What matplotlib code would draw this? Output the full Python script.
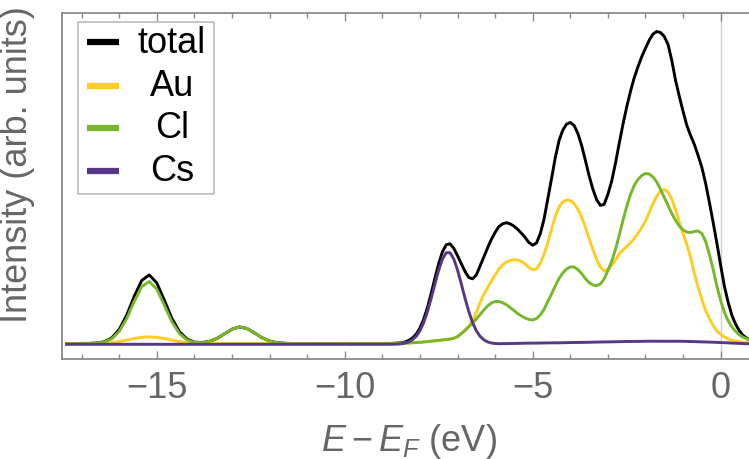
import matplotlib
matplotlib.use('Agg')
import matplotlib.pyplot as plt
import numpy as np
from matplotlib.ticker import MultipleLocator
from matplotlib.patches import Rectangle

plt.rcParams['font.family'] = 'Liberation Sans'
plt.rcParams['mathtext.fontset'] = 'custom'
plt.rcParams['mathtext.rm'] = 'Liberation Sans'
plt.rcParams['mathtext.it'] = 'Liberation Sans:italic'

# semi-core window, 0.2 eV steps
E_CORE = np.linspace(-17.4, -8.8, 44)
# valence window, 0.1 eV steps
E_VAL = np.linspace(-8.6, 0.8, 95)

TOTAL_CORE = [0, 0, 0, 0.1, 0.5, 1.7, 5.5, 13.9, 28.3, 47.0, 63.0, 68.6, 60.6, 43.5, 25.3,
              12.0, 4.6, 1.4, 1.0, 2.1, 5.0, 9.6, 14.3, 16.6, 15.0, 10.6, 5.8, 2.5, 0.8, 0.2,
              0, 0, 0, 0, 0, 0, 0, 0, 0, 0, 0, 0, 0, 0]
AU_CORE = [0, 0, 0, 0, 0.1, 0.3, 0.9, 1.9, 3.4, 5.0, 6.2, 6.6, 6.2, 5.0, 3.4,
           1.9, 0.9, 0.3, 0.1, 0, 0, 0, 0, 0, 0, 0, 0, 0, 0, 0,
           0, 0, 0, 0, 0, 0, 0, 0, 0, 0, 0, 0, 0, 0]
CL_CORE = [0, 0, 0, 0.1, 0.4, 1.4, 4.6, 12.0, 24.9, 42.0, 56.8, 62.0, 54.4, 38.5, 21.9,
           10.1, 3.7, 1.1, 0.9, 2.1, 5.0, 9.6, 14.3, 16.6, 15.0, 10.6, 5.8, 2.5, 0.8, 0.2,
           0, 0, 0, 0, 0, 0, 0, 0, 0, 0, 0, 0, 0, 0]
CS_CORE = [-0.8] * 44

TOTAL_VAL = [0.4, 0.8, 1.5, 3.0, 5.4, 9.3, 15.4, 24.2, 36.0, 50.1, 65.4, 80.0, 91.8, 98.7, 99.7,
             95.2, 87.8, 79.8, 72.0, 66.0, 64.7, 68.5, 77.5, 86.5, 95.6, 104.1, 111.1, 116.9, 119.7, 120.8,
             119.6, 117.4, 114.2, 110.3, 105.9, 100.9, 98.3, 100.5, 109.6, 124.1, 144.2, 164.7, 185.8, 202.8, 213.4,
             219.4, 221.0, 218.1, 210.1, 198.2, 183.3, 167.8, 154.4, 143.8, 138.1, 139.1, 149.2, 162.3, 180.0, 200.0,
             219.0, 236.6, 252.0, 265.7, 276.7, 286.8, 295.3, 303.4, 309.4, 312.0, 311.0, 307.0, 299.0, 283.0, 263.0,
             247.0, 232.0, 218.0, 208.0, 199.0, 188.0, 176.0, 160.0, 141.0, 121.0, 100.0, 78.0, 57.0, 41.0, 28.0,
             19.0, 12.5, 8.0, 5.0, 3.2]
AU_VAL = [0.1, 0.2, 0.3, 0.5, 0.7, 0.9, 1.2, 1.5, 1.9, 2.3, 2.7, 3.1, 3.5, 3.9, 4.4,
          5.2, 7.0, 10.0, 13.5, 17.0, 23.0, 31.0, 41.0, 49.0, 56.0, 62.5, 68.5, 74.5, 78.5, 81.5,
          83.0, 83.8, 83.5, 82.0, 79.5, 76.0, 73.8, 74.5, 80.0, 89.0, 101.0, 114.0, 127.0, 136.5, 141.5,
          143.5, 143.0, 140.0, 134.5, 126.5, 116.5, 105.0, 94.0, 84.0, 76.5, 72.5, 74.0, 78.0, 83.5, 89.5,
          93.5, 97.0, 100.5, 105.0, 110.0, 116.0, 122.5, 131.0, 140.0, 147.5, 152.5, 154.0, 151.5, 144.5, 133.5,
          121.0, 110.0, 99.0, 86.0, 70.0, 56.0, 44.0, 33.0, 25.0, 18.0, 12.5, 9.0, 6.5, 4.5, 3.3,
          2.4, 1.8, 1.3, 0.9, 0.6]
CL_VAL = [0.1, 0.2, 0.3, 0.5, 0.7, 0.9, 1.2, 1.5, 1.9, 2.3, 2.7, 3.1, 3.5, 3.9, 4.4,
          5.2, 7.0, 9.8, 13.0, 16.8, 20.5, 24.5, 29.0, 33.5, 37.5, 40.5, 42.0, 42.0, 40.8, 38.8,
          36.0, 33.0, 30.0, 27.5, 25.5, 24.0, 23.5, 25.0, 28.5, 34.0, 42.0, 49.5, 57.5, 65.0, 70.5,
          74.5, 76.5, 76.5, 74.0, 70.0, 65.0, 61.0, 58.5, 57.8, 59.5, 64.5, 73.0, 82.0, 94.0, 108.0,
          123.0, 137.0, 149.0, 158.0, 164.0, 168.0, 170.0, 169.5, 166.5, 161.5, 154.0, 146.0, 138.0, 130.0, 123.0,
          117.5, 113.5, 111.5, 111.0, 112.0, 112.5, 110.0, 102.0, 89.0, 74.0, 57.0, 43.0, 31.0, 22.5, 16.5,
          12.0, 8.5, 6.2, 4.6, 3.4]
CS_VAL = [-0.6, -0.3, 0.4, 1.6, 3.7, 7.2, 12.7, 20.9, 31.9, 45.2, 59.7, 73.5, 84.6, 90.8, 90.8,
          84.6, 73.5, 59.7, 45.2, 31.9, 20.9, 12.7, 7.2, 3.7, 1.6, 0.5, 0.0,
          -0.2, -0.2, -0.1, 0, 0, 0.1, 0.2, 0.3, 0.3, 0.4,
          0.4, 0.5, 0.5, 0.6, 0.6, 0.7, 0.7, 0.8, 0.8, 0.9,
          1.0, 1.0, 1.1, 1.2, 1.2, 1.3, 1.4, 1.5, 1.5, 1.6,
          1.7, 1.8, 1.8, 1.9, 2.0, 2.0, 2.1, 2.1, 2.2, 2.2,
          2.3, 2.3, 2.4, 2.4, 2.4, 2.4, 2.4, 2.3, 2.3, 2.2,
          2.1, 2.0, 1.9, 1.8, 1.7, 1.5, 1.4, 1.2, 1.1, 1.0,
          0.8, 0.6, 0.4, 0.2, 0.0, -0.1, -0.2, -0.3]

energy = np.concatenate([E_CORE, E_VAL])
series = [
    ('total', TOTAL_CORE + TOTAL_VAL, 'black'),
    ('Au', AU_CORE + AU_VAL, '#ffcc22'),
    ('Cl', CL_CORE + CL_VAL, '#77b82a'),
    ('Cs', CS_CORE + CS_VAL, '#563887'),
]

fig = plt.figure(figsize=(7.49, 4.60), dpi=100)
ax = fig.add_axes([62 / 749, 100 / 460, 687 / 749, 346 / 460])

ax.axvline(0, color='#cfcfcf', lw=1.0, zorder=0)
for name, vals, col in series:
    ax.plot(energy, vals, color=col, lw=2.1, solid_joinstyle='round')

ax.set_xlim(-17.52, 0.753)
ax.set_ylim(-15.5, 330.5)
ax.set_yticks([])
ax.xaxis.set_major_locator(MultipleLocator(5))
ax.xaxis.set_minor_locator(MultipleLocator(1))
ax.tick_params(axis='x', which='both', direction='in', top=True, color='#8a8a8a',
               labelcolor='#666666', labelsize=26, pad=8, width=1.0)
ax.tick_params(axis='x', which='major', length=5.5)
ax.tick_params(axis='x', which='minor', length=3.3)
for side in ['left', 'bottom', 'top']:
    ax.spines[side].set_color('#8a8a8a')
    ax.spines[side].set_linewidth(1.3)
ax.spines['right'].set_visible(False)

ax.set_xlabel(r'$E-E_F$ (eV)', fontsize=26, color='#666666')
ax.xaxis.set_label_coords(0.505, -0.18)
ax.set_ylabel('Intensity (arb. units)', fontsize=26, color='#666666')
ax.yaxis.set_label_coords(-0.040, 0.564)

# legend box with centred labels
ax.add_patch(Rectangle((0.0229, 0.477), 0.1988, 0.498, transform=ax.transAxes,
                       facecolor='white', edgecolor='#bbbbbb', lw=1.2, zorder=5))
rows = [0.915, 0.790, 0.668, 0.544]
for (name, vals, col), ry in zip(series, rows):
    ax.plot([0.0364, 0.0824], [ry, ry], transform=ax.transAxes, color=col, lw=4.5,
            solid_capstyle='butt', zorder=6)
    ax.text(0.160, ry, name, transform=ax.transAxes, ha='center', va='center',
            fontsize=26, color='black', zorder=6)

fig.savefig('out.png', dpi=100)
